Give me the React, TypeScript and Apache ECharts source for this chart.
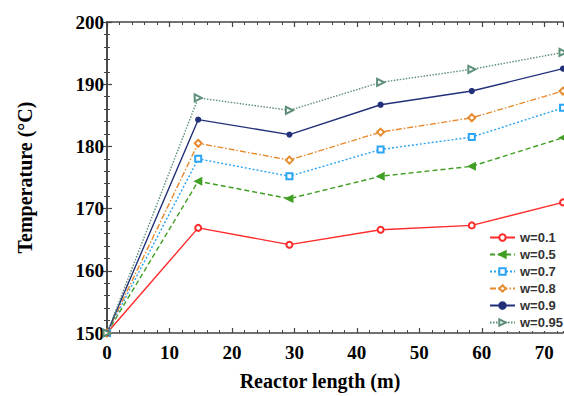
import React, { useEffect, useRef } from "react";
import * as echarts from "echarts";

const lengths = [0, 14.6, 29.2, 43.8, 58.4, 73];
const w01 = [150, 166.9, 164.2, 166.6, 167.3, 171.0];
const w05 = [150, 174.4, 171.6, 175.2, 176.8, 181.4];
const w07 = [150, 178.0, 175.2, 179.5, 181.5, 186.2];
const w08 = [150, 180.5, 177.8, 182.3, 184.6, 188.9];
const w09 = [150, 184.3, 181.9, 186.7, 188.9, 192.5];
const w095 = [150, 187.8, 185.8, 190.3, 192.4, 195.1];

const seriesNames = ["w=0.1", "w=0.5", "w=0.7", "w=0.8", "w=0.9", "w=0.95"];
const seriesValues = [w01, w05, w07, w08, w09, w095];
const seriesColors = ["#ff2a2a", "#3f9f22", "#2aa4f4", "#e8892c", "#22307a", "#5e8f78"];

const serif = "'Liberation Serif', 'Times New Roman', serif";
const sans = "'Liberation Sans', Arial, sans-serif";

export default function App() {
  const ref = useRef<HTMLDivElement>(null);
  useEffect(() => {
    if (!ref.current) return;
    const chart = echarts.init(ref.current, undefined, { renderer: "svg" });
    const styles: any[] = [
      { type: "solid", symbol: "emptyCircle", size: 6, rot: 0 },
      { type: [5, 3], symbol: "triangle", size: 7, rot: 90 },
      { type: [2, 2], symbol: "emptyRect", size: 6, rot: 0 },
      { type: [6, 2, 1.5, 2], symbol: "emptyDiamond", size: 7, rot: 0 },
      { type: "solid", symbol: "circle", size: 5, rot: 0 },
      { type: [1.5, 1.5], symbol: "emptyTriangle", size: 7, rot: -90 },
    ];
    const series = seriesNames.map((name, i) => ({
      name,
      type: "line",
      data: lengths.map((x, j) => [x, seriesValues[i][j]]),
      symbol: styles[i].symbol,
      symbolSize: styles[i].size,
      symbolRotate: styles[i].rot,
      showAllSymbol: true,
      clip: false,
      color: seriesColors[i],
      lineStyle: { color: seriesColors[i], width: 1.4, type: styles[i].type },
      itemStyle: { color: seriesColors[i], borderColor: seriesColors[i], borderWidth: 1.2 },
    }));
    const axisLine = { show: true, lineStyle: { color: "#444", width: 1.6 } };
    const tick = { show: true, inside: true, length: 5, lineStyle: { color: "#444", width: 1.2 } };
    const minor = { show: true, splitNumber: 5, length: 3, lineStyle: { color: "#444", width: 1 } };
    chart.setOption({
      animation: false,
      backgroundColor: "#fff",
      grid: { left: 107, right: 1, top: 22, bottom: 62 },
      legend: {
        orient: "vertical",
        left: 487,
        top: 229,
        padding: [2, 2, 2, 2],
        itemWidth: 25,
        itemHeight: 8,
        itemGap: 4,
        backgroundColor: "#fff",
        textStyle: { fontFamily: sans, fontSize: 13, fontWeight: "bold", color: "#333", padding: [0, 0, 0, 0] },
        data: seriesNames,
      },
      xAxis: [
        {
          type: "value",
          min: 0,
          max: 73,
          interval: 10,
          name: "Reactor length (m)",
          nameLocation: "middle",
          nameGap: 38,
          nameTextStyle: { fontFamily: serif, fontSize: 20, fontWeight: "bold", color: "#000", padding: [0, 30, 0, 0] },
          axisLine,
          axisTick: tick,
          minorTick: minor,
          splitLine: { show: false },
          axisLabel: { fontFamily: serif, fontSize: 19, fontWeight: "bold", color: "#000", margin: 10, showMaxLabel: false },
        },
        {
          type: "value",
          position: "top",
          min: 0,
          max: 73,
          interval: 10,
          axisLine,
          axisTick: tick,
          minorTick: minor,
          splitLine: { show: false },
          axisLabel: { show: false },
        },
      ],
      yAxis: [
        {
          type: "value",
          min: 150,
          max: 200,
          interval: 10,
          name: "Temperature (°C)",
          nameLocation: "middle",
          nameGap: 72,
          nameTextStyle: { fontFamily: serif, fontSize: 20, fontWeight: "bold", color: "#000" },
          axisLine,
          axisTick: tick,
          minorTick: minor,
          splitLine: { show: false },
          axisLabel: { fontFamily: serif, fontSize: 19, fontWeight: "bold", color: "#000", margin: 3 },
        },
        {
          type: "value",
          position: "right",
          min: 150,
          max: 200,
          interval: 10,
          axisLine,
          axisTick: tick,
          minorTick: minor,
          splitLine: { show: false },
          axisLabel: { show: false },
        },
      ],
      series,
    });
    return () => chart.dispose();
  }, []);
  return (
    <div
      ref={ref}
      style={{ position: "absolute", left: 0, top: 0, width: 564, height: 396, background: "#fff" }}
    />
  );
}
